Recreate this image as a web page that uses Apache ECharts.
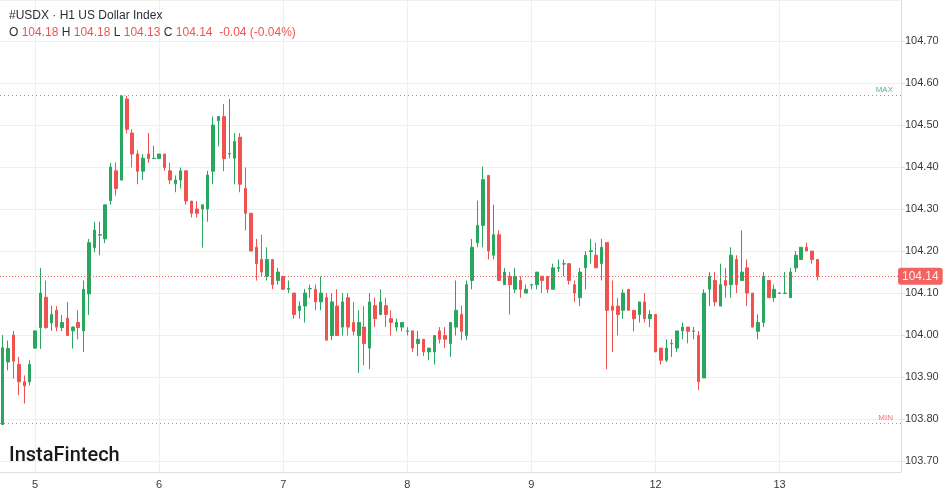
<!DOCTYPE html>
<html>
<head>
<meta charset="utf-8">
<script src="https://cdn.jsdelivr.net/npm/echarts@6/dist/echarts.min.js"></script>
<style>
html,body{margin:0;padding:0;background:#fff;}
#c{width:949px;height:494px;}
</style>
</head>
<body>
<div id="c"></div>
<script>
// ---- data (hourly candles, USDX H1) ----
const opens = [103.787,103.936,104.000,103.930,103.889,103.889,103.969,104.018,104.090,104.029,104.059,104.018,104.040,104.010,104.030,104.010,104.098,104.208,104.238,104.229,104.320,104.391,104.369,104.562,104.481,104.431,104.390,104.431,104.420,104.420,104.431,104.391,104.360,104.369,104.391,104.319,104.300,104.300,104.300,104.390,104.510,104.520,104.431,104.421,104.471,104.349,104.290,104.209,104.180,104.140,104.180,104.130,104.140,104.109,104.100,104.059,104.069,104.110,104.109,104.079,104.089,103.999,104.069,104.019,104.089,104.030,103.999,104.019,103.969,104.070,104.049,104.070,104.039,104.019,104.019,104.009,104.010,103.980,103.990,103.960,103.960,104.010,103.999,103.980,104.019,104.049,103.999,104.130,104.220,104.261,104.380,104.190,104.239,104.120,104.140,104.109,104.130,104.100,104.119,104.120,104.140,104.140,104.109,104.159,104.169,104.170,104.120,104.089,104.160,104.199,104.190,104.170,104.220,104.069,104.069,104.059,104.109,104.059,104.049,104.079,104.039,104.049,103.969,103.940,103.979,103.969,104.010,104.019,104.009,103.999,103.898,104.109,104.130,104.069,104.130,104.120,104.180,104.130,104.160,104.100,104.009,104.030,104.130,104.089,104.099,104.099,104.089,104.160,104.180,104.209,104.200,104.180];
const highs = [104.000,103.987,104.010,103.948,103.904,103.940,104.011,104.160,104.130,104.070,104.069,104.048,104.079,104.021,104.059,104.130,104.229,104.270,104.270,104.310,104.410,104.411,104.571,104.569,104.490,104.440,104.431,104.481,104.451,104.431,104.431,104.410,104.380,104.399,104.391,104.319,104.319,104.310,104.391,104.520,104.520,104.550,104.562,104.481,104.481,104.399,104.290,104.229,104.239,104.209,104.180,104.160,104.140,104.130,104.100,104.080,104.110,104.120,104.120,104.140,104.100,104.100,104.109,104.100,104.100,104.079,104.059,104.069,104.100,104.089,104.109,104.089,104.059,104.039,104.030,104.019,104.010,104.010,103.990,103.969,103.999,104.019,104.019,104.030,104.130,104.070,104.130,104.229,104.320,104.401,104.380,104.310,104.249,104.160,104.150,104.160,104.140,104.120,104.120,104.150,104.140,104.140,104.170,104.180,104.180,104.170,104.130,104.160,104.200,104.229,104.220,104.229,104.220,104.130,104.089,104.109,104.109,104.059,104.079,104.100,104.059,104.049,103.969,103.990,103.990,104.010,104.030,104.019,104.019,104.010,104.109,104.150,104.150,104.170,104.160,104.209,104.190,104.249,104.180,104.100,104.049,104.150,104.130,104.120,104.102,104.150,104.160,104.200,104.209,104.220,104.200,104.180];
const lows = [103.787,103.916,103.896,103.857,103.837,103.880,103.967,103.967,104.015,104.010,104.009,104.009,103.998,103.968,103.990,103.960,104.048,104.197,104.190,104.219,104.310,104.332,104.368,104.480,104.399,104.359,104.369,104.410,104.419,104.420,104.391,104.359,104.340,104.349,104.310,104.280,104.280,104.208,104.270,104.359,104.449,104.390,104.421,104.359,104.340,104.249,104.200,104.130,104.140,104.130,104.109,104.120,104.109,104.100,104.039,104.039,104.030,104.089,104.059,104.059,103.988,103.988,103.998,103.999,103.999,103.999,103.910,103.928,103.919,104.019,104.047,104.019,103.999,104.009,104.009,103.999,103.960,103.950,103.950,103.940,103.930,103.980,103.969,103.948,103.999,103.988,103.988,104.109,104.209,104.209,104.180,104.180,104.130,104.120,104.049,104.100,104.089,104.100,104.109,104.109,104.100,104.100,104.109,104.150,104.140,104.120,104.079,104.069,104.109,104.170,104.160,104.130,103.919,103.960,103.999,104.039,104.059,104.009,104.030,104.030,104.019,103.960,103.930,103.936,103.948,103.960,103.990,103.980,103.990,103.869,103.898,104.069,104.069,104.069,104.089,104.089,104.100,104.130,104.069,104.019,103.990,104.019,104.089,104.079,104.098,104.098,104.089,104.150,104.180,104.200,104.170,104.130];
const closes = [103.970,103.968,103.938,103.889,103.879,103.930,104.010,104.100,104.018,104.049,104.019,104.030,103.999,104.019,104.018,104.109,104.220,104.250,104.239,104.310,104.400,104.349,104.569,104.490,104.431,104.390,104.421,104.420,104.421,104.431,104.399,104.369,104.369,104.391,104.319,104.290,104.290,104.310,104.381,104.500,104.520,104.420,104.432,104.461,104.359,104.290,104.200,104.170,104.150,104.180,104.120,104.150,104.109,104.111,104.049,104.069,104.100,104.111,104.079,104.100,103.988,104.079,103.999,104.079,104.019,104.009,104.030,103.980,104.079,104.039,104.079,104.049,104.030,104.030,104.030,104.010,103.969,103.990,103.960,103.969,103.999,103.990,103.990,104.030,104.059,104.009,104.120,104.209,104.261,104.370,104.200,104.239,104.130,104.150,104.120,104.140,104.109,104.109,104.120,104.150,104.130,104.109,104.160,104.161,104.170,104.130,104.100,104.150,104.190,104.201,104.160,104.209,104.059,104.059,104.049,104.100,104.059,104.039,104.079,104.039,104.049,103.960,103.940,103.969,103.980,104.010,104.019,104.009,104.010,103.889,104.100,104.140,104.079,104.120,104.118,104.190,104.120,104.150,104.100,104.019,104.030,104.140,104.089,104.109,104.100,104.100,104.150,104.190,104.209,104.200,104.180,104.140];
const dayLabels = ['5','6','7','8','9','12','13'];
const dayStartIndex = [6,29,52,75,98,121,144];
const slotCount = 167;
const maxLineValue = 104.57;
const minLineValue = 103.787;

// ---- build ----
const cats = [];
for (let i = 0; i < slotCount; i++) cats.push(String(i));
const labelMap = {};
dayStartIndex.forEach((idx, k) => { labelMap[idx] = dayLabels[k]; });
const candles = opens.map((o, i) => [o, closes[i], lows[i], highs[i]]);
const n = opens.length;
const lastO = opens[n-1], lastH = highs[n-1], lastL = lows[n-1], lastC = closes[n-1];
const chg = lastC - closes[n-2];
const chgPct = chg / closes[n-2] * 100;

const GREEN = '#2aa75f', RED = '#ef5350';
const FONT = 'Liberation Sans, Arial';

const chart = echarts.init(document.getElementById('c'), null, {renderer: 'canvas'});
chart.setOption({
  animation: false,
  backgroundColor: '#ffffff',
  title: {
    left: 9, top: 7, padding: 0,
    text: '{a|#USDX · H1 US Dollar Index}\n' +
      '{k|O }{v|' + lastO.toFixed(2) + '}{k| H }{v|' + lastH.toFixed(2) + '}{k| L }{v|' + lastL.toFixed(2) +
      '}{k| C }{v|' + lastC.toFixed(2) + '}{v|  ' + chg.toFixed(2) + ' (' + chgPct.toFixed(2) + '%)}',
    textStyle: {
      fontWeight: 'normal',
      rich: {
        a: {fontFamily: FONT, fontSize: 12, fontWeight: 'normal', color: '#2a2e39', lineHeight: 17},
        k: {fontFamily: FONT, fontSize: 12, fontWeight: 'normal', color: '#2a2e39', lineHeight: 17},
        v: {fontFamily: FONT, fontSize: 12, fontWeight: 'normal', color: RED, lineHeight: 17}
      }
    }
  },
  graphic: [{
    type: 'text', left: 9, top: 446,
    style: {text: 'InstaFintech', font: '500 20px Roboto, Arial', fill: '#1a1a1a'}
  }],
  grid: {left: -1.83, right: 48, top: -1, bottom: 22},
  xAxis: {
    type: 'category',
    data: cats,
    boundaryGap: true,
    axisLine: {show: true, lineStyle: {color: '#dcdfe6'}},
    axisTick: {show: false},
    axisLabel: {
      interval: (i) => labelMap[i] !== undefined,
      formatter: (v, i) => labelMap[i] || '',
      color: '#3a3a3a', fontSize: 11, margin: 7,
      fontFamily: FONT
    },
    splitLine: {
      show: true,
      interval: (i) => labelMap[i] !== undefined,
      alignWithLabel: true,
      lineStyle: {color: '#eeeeee', width: 1}
    }
  },
  yAxis: {
    type: 'value',
    position: 'right',
    min: 103.6741,
    max: 104.7976,
    minInterval: 0.1,
    maxInterval: 0.1,
    scale: true,
    axisLine: {show: true, lineStyle: {color: '#dcdfe6'}},
    axisTick: {show: true, length: 4, lineStyle: {color: '#dcdfe6'}},
    axisLabel: {
      showMinLabel: false, showMaxLabel: false,
      formatter: (v) => v.toFixed(2),
      color: '#3a3a3a', fontSize: 11, margin: 4,
      fontFamily: FONT
    },
    splitLine: {show: true, lineStyle: {color: '#f0f0f0', width: 1}}
  },
  series: [{
    type: 'candlestick',
    data: candles,
    barWidth: 3,
    itemStyle: {
      color: GREEN, color0: RED,
      borderColor: GREEN, borderColor0: RED,
      borderWidth: 1
    },
    markLine: {
      silent: true,
      symbol: ['none', 'none'],
      animation: false,
      data: [
        {yAxis: maxLineValue, lineStyle: {color: GREEN, type: [1, 3], width: 1, opacity: 0.8},
         label: {show: true, position: 'insideEndTop', formatter: 'MAX', color: GREEN, fontSize: 8, distance: [8, 2], fontFamily: FONT}},
        {yAxis: minLineValue, lineStyle: {color: RED, type: [1, 3], width: 1, opacity: 0.8},
         label: {show: true, position: 'insideEndTop', formatter: 'MIN', color: RED, fontSize: 8, distance: [8, 2], fontFamily: FONT}},
        {yAxis: lastC, lineStyle: {color: RED, type: [1, 2], width: 1, opacity: 0.9},
         label: {show: true, position: 'end', formatter: lastC.toFixed(2), color: '#ffffff', fontSize: 12,
                 backgroundColor: RED, borderRadius: 3, padding: [3, 4, 2, 4], distance: -3,
                 fontFamily: FONT}}
      ]
    }
  }]
});
</script>
</body>
</html>
